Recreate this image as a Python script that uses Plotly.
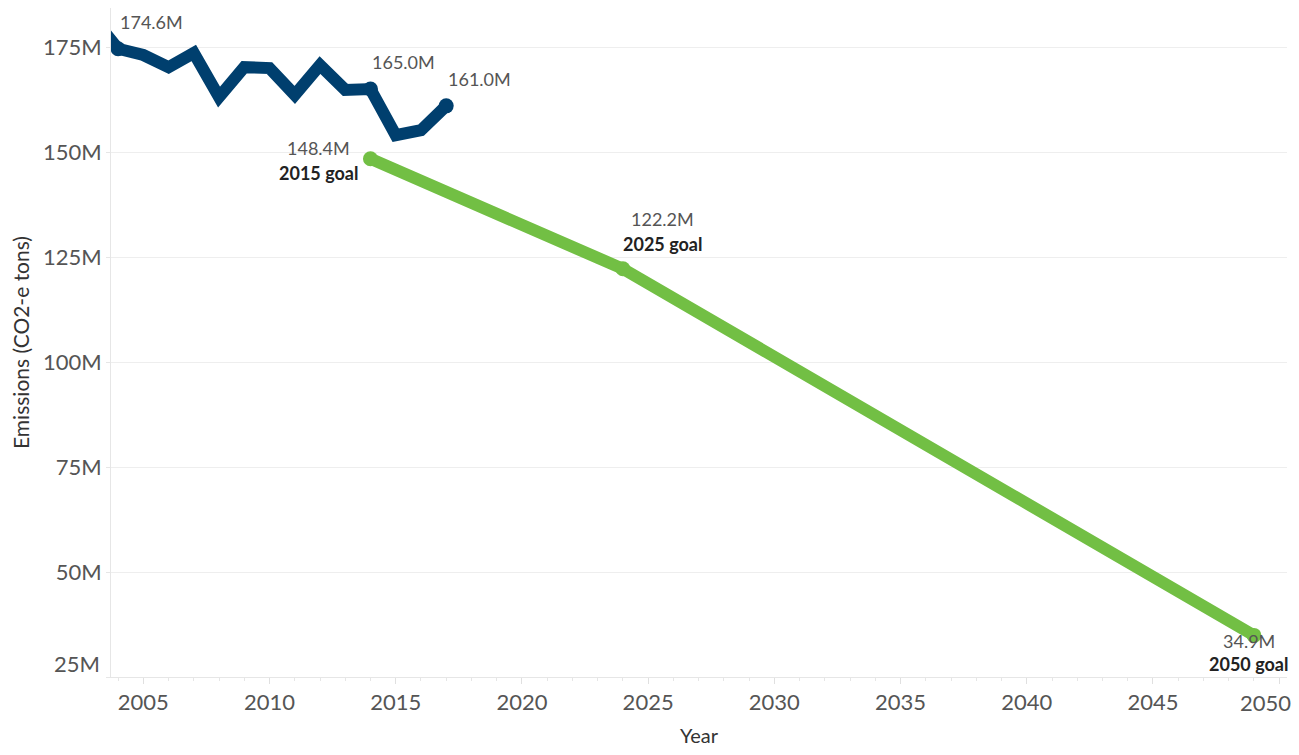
import plotly.graph_objects as go

# Actual emissions
actual_years = [2003, 2004, 2005, 2006, 2007, 2008, 2009, 2010, 2011, 2012, 2013, 2014, 2015, 2016, 2017]
actual_values = [182.0, 174.6, 173.1, 170.2, 173.6, 163.1, 170.2, 170.0, 163.6, 170.7, 164.8, 165.0, 154.0, 155.2, 161.0]

# Goals
goal_years = [2014, 2024, 2049]
goal_values = [148.4, 122.2, 34.9]
goal_names = ["2015 goal", "2025 goal", "2050 goal"]

# Labelled actual points
label_years = [2004, 2014, 2017]

y_tickvals = [25, 50, 75, 100, 125, 150, 175]
y_ticktext = ["25M", "50M", "75M", "100M", "125M", "150M", "175M"]
x_tickvals = [2005, 2010, 2015, 2020, 2025, 2030, 2035, 2040, 2045, 2050]
x_ticktext = ["2005", "2010", "2015", "2020", "2025", "2030", "2035", "2040", "2045", "2050"]

BLUE = "#003f6e"
GREEN = "#72bf44"
FONT = "Lato"
TICKFONT = dict(family=FONT, size=22, color="#555555")

fig = go.Figure()
fig.add_trace(go.Scatter(
    x=goal_years, y=goal_values, mode="lines+markers",
    line=dict(color=GREEN, width=12), marker=dict(color=GREEN, size=15),
    hoverinfo="skip", showlegend=False))
fig.add_trace(go.Scatter(
    x=actual_years, y=actual_values, mode="lines",
    line=dict(color=BLUE, width=12), hoverinfo="skip", showlegend=False))
lab_vals = [actual_values[actual_years.index(y)] for y in label_years]
fig.add_trace(go.Scatter(
    x=label_years, y=lab_vals, mode="markers",
    marker=dict(color=BLUE, size=15), hoverinfo="skip", showlegend=False))

# value labels for actuals
for yr, v in zip(label_years, lab_vals):
    fig.add_annotation(x=yr, y=v, text=f"{v:.1f}M", showarrow=False,
                       xanchor="left", yanchor="middle", xshift=0, yshift=27,
                       font=dict(family=FONT, size=18, color="#555555"))

# goal labels
goal_shifts = [(-52, 11, -14), (40, 50, 25), (-5, -6, -29)]
for yr, v, name, (dx, dy1, dy2) in zip(goal_years, goal_values, goal_names, goal_shifts):
    fig.add_annotation(x=yr, y=v, text=f"{v:.1f}M", showarrow=False,
                       xanchor="center", yanchor="middle", xshift=dx, yshift=dy1,
                       font=dict(family=FONT, size=18, color="#555555"))
    fig.add_annotation(x=yr, y=v, text=f"<b>{name}</b>", showarrow=False,
                       xanchor="center", yanchor="middle", xshift=dx, yshift=dy2,
                       font=dict(family=FONT, size=18, color="#222222"))

# edge tick labels kept inside the view (as in the reference)
x_edge_idx = len(x_tickvals) - 1
y_edge_idx = 0
x_ticktext_shown = [t if i != x_edge_idx else "" for i, t in enumerate(x_ticktext)]
y_ticktext_shown = [t if i != y_edge_idx else "" for i, t in enumerate(y_ticktext)]
fig.add_annotation(x=x_tickvals[x_edge_idx], xref="x", y=0, yref="paper",
                   text=x_ticktext[x_edge_idx], showarrow=False,
                   xanchor="right", yanchor="middle", xshift=14, yshift=-25,
                   font=TICKFONT)
fig.add_annotation(x=0, xref="paper", y=y_tickvals[y_edge_idx], yref="y",
                   text=y_ticktext[y_edge_idx], showarrow=False,
                   xanchor="right", yanchor="middle", xshift=-9, yshift=14,
                   font=TICKFONT)

fig.update_layout(
    width=1283, height=739,
    margin=dict(l=103, r=4, t=0, b=70),
    paper_bgcolor="white", plot_bgcolor="white",
    font=dict(family=FONT, color="#555555"),
    xaxis=dict(
        range=[2003.72, 2050.31], tickvals=x_tickvals, ticktext=x_ticktext_shown,
        showgrid=False, zeroline=False,
        showline=True, linecolor="#e6e6e6", linewidth=1,
        ticks="outside", ticklen=6, tickcolor="#e0e0e0",
        minor=dict(dtick=1, tick0=2004, ticks="outside", ticklen=3, tickcolor="#e6e6e6", showgrid=False),
        tickfont=TICKFONT,
        title=dict(text="Year", font=dict(family=FONT, size=20, color="#333333"), standoff=20),
        automargin=False,
    ),
    yaxis=dict(
        range=[25, 184.3], tickvals=y_tickvals, ticktext=y_ticktext_shown,
        showgrid=True, gridcolor="#eeeeee", gridwidth=1, zeroline=False,
        showline=True, linecolor="#e6e6e6", linewidth=1,
        ticks="outside", ticklen=4, tickcolor="#e6e6e6",
        tickfont=TICKFONT,
        title=dict(text="Emissions (CO2-e tons)", font=dict(family=FONT, size=21, color="#333333"), standoff=8),
        automargin=False,
    ),
)

fig.write_html("out.html")
